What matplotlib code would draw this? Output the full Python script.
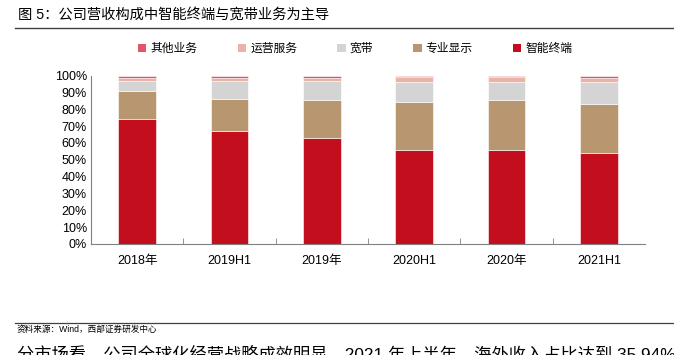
import numpy as np
import matplotlib.pyplot as plt
from matplotlib.patches import Patch
from matplotlib.lines import Line2D

plt.rcParams['font.family'] = ['Liberation Sans', 'Noto Sans CJK SC', 'DejaVu Sans']

# Data (shares, %)
periods = ['2018年', '2019H1', '2019年', '2020H1', '2020年', '2021H1']
smart_terminal = [74.1, 67.2, 62.9, 55.9, 55.5, 54.0]   # 智能终端
pro_display = [16.8, 18.9, 22.9, 28.7, 30.1, 29.2]      # 专业显示
broadband = [6.1, 10.8, 11.1, 11.5, 10.5, 13.2]         # 宽带
ops_service = [1.8, 1.9, 1.9, 2.9, 2.9, 2.4]            # 运营服务
other_biz = [1.2, 1.2, 1.2, 1.0, 1.0, 1.2]              # 其他业务

series = [smart_terminal, pro_display, broadband, ops_service, other_biz]
names = ['智能终端', '专业显示', '宽带', '运营服务', '其他业务']
colors = ['#C20E1D', '#B8966F', '#D4D4D4', '#EBB2A7', '#E05767']

fig = plt.figure(figsize=(6.74, 3.55), dpi=100)
ax = fig.add_axes([0.135, 0.313, 0.822, 0.474])

x = np.arange(len(periods))
bottom = np.zeros(len(periods))
for vals, name, c in zip(series, names, colors):
    vals = np.array(vals)
    ax.bar(x, vals, 0.41, bottom=bottom, color=c, edgecolor='white', linewidth=0.4, label=name)
    bottom += vals

ax.set_xlim(-0.5, len(periods) - 0.5)
ax.set_ylim(0, 100)
ax.set_yticks(np.arange(0, 101, 10))
ax.set_yticklabels([f'{v}%' for v in range(0, 101, 10)], fontsize=9)
ax.set_xticks(x)
ax.set_xticklabels(periods, fontsize=9)
ax.set_xticks(np.arange(0.5, len(periods) - 1, 1), minor=True)
ax.tick_params(axis='x', which='major', length=0, pad=8)
ax.tick_params(axis='x', which='minor', direction='in', length=4, color='#808080')
ax.tick_params(axis='y', length=0, pad=3)
for s in ['top', 'right']:
    ax.spines[s].set_visible(False)
for s in ['left', 'bottom']:
    ax.spines[s].set_color('#808080')
    ax.spines[s].set_linewidth(0.8)

# legend (reverse order)
handles = [Patch(facecolor=c, edgecolor='none') for c in colors[::-1]]
fig.legend(handles, names[::-1], loc='center', bbox_to_anchor=(0.527, 0.862), ncol=5,
           frameon=False, fontsize=8.5, handlelength=0.7, handleheight=0.7,
           handletextpad=0.35, columnspacing=3.4)

# title and rules
fig.text(0.027, 0.958, '图 5：公司营收构成中智能终端与宽带业务为主导', fontsize=10.3, va='center')
fig.add_artist(Line2D([0.022, 1.0], [0.922, 0.922], color='#404040', linewidth=1.0))
fig.add_artist(Line2D([0.022, 1.0], [0.091, 0.091], color='#404040', linewidth=0.9))
fig.text(0.025, 0.073, '资料来源：Wind，西部证券研发中心', fontsize=6.2, va='center')
fig.text(0.025, 0.005, '分市场看，公司全球化经营战略成效明显，2021 年上半年，海外收入占比达到 35.94%',
         fontsize=12.4, va='center')

fig.savefig('out.png', dpi=100)
